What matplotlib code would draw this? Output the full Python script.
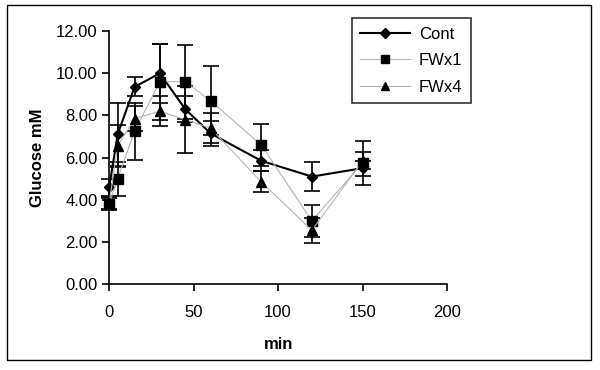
import matplotlib

matplotlib.use("Agg")
import matplotlib.pyplot as plt
from matplotlib.patches import Rectangle
from matplotlib.ticker import FormatStrFormatter

plt.rcParams["font.family"] = ["Liberation Sans", "DejaVu Sans"]

minutes = [0, 5, 15, 30, 45, 60, 90, 120, 150]

cont = [4.6, 7.1, 9.35, 10.0, 8.3, 7.15, 5.85, 5.1, 5.5]
cont_err = [0.4, 1.5, 0.45, 1.4, 0.6, 0.6, 0.5, 0.7, 0.35]

fwx1 = [3.8, 5.0, 7.25, 9.6, 9.6, 8.7, 6.6, 3.0, 5.75]
fwx1_err = [0.3, 0.8, 1.35, 1.8, 1.75, 1.65, 1.0, 0.75, 1.05]

fwx4 = [3.85, 6.55, 7.85, 8.2, 7.8, 7.4, 4.85, 2.55, 5.85]
fwx4_err = [0.3, 1.0, 0.6, 0.7, 1.6, 0.7, 0.5, 0.6, 0.4]

fig = plt.figure(figsize=(6, 3.7), dpi=100)
fig.patches.append(Rectangle((0.012, 0.027), 0.973, 0.96, transform=fig.transFigure,
                             fill=False, edgecolor="black", linewidth=1.0))
ax = fig.add_axes([0.182, 0.232, 0.563, 0.684])

series = [
    ("Cont", cont, cont_err, "D", "black", 1.5, 5.5),
    ("FWx1", fwx1, fwx1_err, "s", "#b4b4b4", 0.8, 6.5),
    ("FWx4", fwx4, fwx4_err, "^", "#b4b4b4", 0.8, 7),
]
for label, vals, errs, marker, color, lw, ms in series:
    eb = ax.errorbar(minutes, vals, yerr=errs, fmt="none", ecolor="black",
                     elinewidth=1.2, capsize=6, capthick=1.2, zorder=2)
    for art in eb.lines[1] + eb.lines[2]:
        art.set_clip_on(False)
    ax.plot(minutes, vals, color=color, linewidth=lw, marker=marker,
            markersize=ms, markerfacecolor="black", markeredgecolor="black",
            label=label, zorder=3, clip_on=False)

ax.set_xlim(0, 200)
ax.set_ylim(0, 12)
ax.set_xticks([0, 50, 100, 150, 200])
ax.set_yticks([0, 2, 4, 6, 8, 10, 12])
ax.yaxis.set_major_formatter(FormatStrFormatter("%.2f"))
ax.spines["top"].set_visible(False)
ax.spines["right"].set_visible(False)
ax.spines["left"].set_linewidth(1.2)
ax.spines["bottom"].set_linewidth(1.2)
ax.tick_params(direction="out", length=5, width=1.2, labelsize=12)
ax.tick_params(axis="x", pad=10)
ax.set_xlabel("min", fontsize=12, fontweight="bold", labelpad=12)
ax.set_ylabel("Glucose mM", fontsize=12, fontweight="bold", labelpad=8)

leg = ax.legend(loc="upper left", bbox_to_anchor=(0.719, 1.051), fontsize=12,
                frameon=True, fancybox=False, edgecolor="black",
                handlelength=3.0, handletextpad=0.5, borderpad=0.5,
                labelspacing=0.7, borderaxespad=0, markerscale=0.85)
leg.get_frame().set_linewidth(1.2)

fig.savefig("out.png", dpi=100)
